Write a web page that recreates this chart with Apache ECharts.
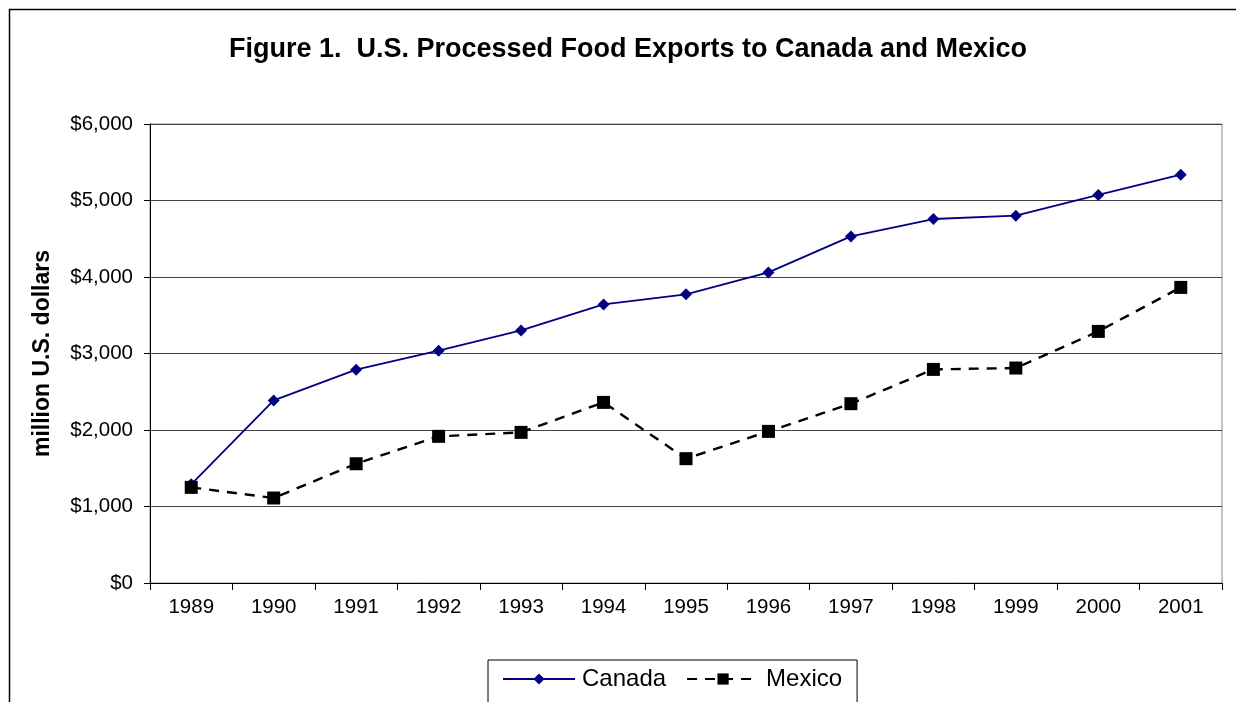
<!DOCTYPE html>
<html>
<head>
<meta charset="utf-8">
<script src="https://cdn.jsdelivr.net/npm/echarts@6/dist/echarts.min.js"></script>
<style>
html,body{margin:0;padding:0;background:#fff;}
#chart{width:1236px;height:702px;}
</style>
</head>
<body>
<div id="chart"></div>
<script>
var years = ['1989','1990','1991','1992','1993','1994','1995','1996','1997','1998','1999','2000','2001'];
var canada = [1290, 2387, 2788, 3037, 3302, 3642, 3773, 4060, 4531, 4758, 4801, 5072, 5337];
var mexico = [1250, 1111, 1559, 1917, 1969, 2361, 1625, 1982, 2344, 2792, 2810, 3289, 3864];
var yTicks = [0, 1000, 2000, 3000, 4000, 5000, 6000];

var chart = echarts.init(document.getElementById('chart'), null, {renderer: 'canvas'});
var font = 'Arial, "Liberation Sans", sans-serif';
chart.setOption({
  animation: false,
  backgroundColor: '#fff',
  textStyle: {fontFamily: font, color: '#000'},
  graphic: [{
    type: 'rect',
    shape: {x: 9.5, y: 9.5, width: 1260, height: 760},
    style: {fill: 'none', stroke: '#000', lineWidth: 1.5},
    silent: true
  }],
  title: {
    text: 'Figure 1.  U.S. Processed Food Exports to Canada and Mexico',
    left: 623, textAlign: 'center', top: 31,
    textStyle: {fontFamily: font, fontSize: 27, fontWeight: 'bold', color: '#000'}
  },
  grid: {left: 150, right: 14, top: 124, bottom: 119, show: true, borderColor: '#888', borderWidth: 1},
  legend: {
    left: 488, top: 660,
    data: ['Canada', 'Mexico'],
    itemWidth: 72, itemHeight: 14, itemGap: 20,
    borderColor: '#000', borderWidth: 1,
    padding: [7, 15, 30, 14],
    textStyle: {fontFamily: font, fontSize: 24, color: '#000', padding: [0, 0, 0, 2]}
  },
  xAxis: {
    type: 'category', data: years, boundaryGap: true,
    axisLine: {lineStyle: {color: '#000', width: 1}},
    axisTick: {show: true, interval: 0, length: 7, lineStyle: {color: '#000'}},
    axisLabel: {fontFamily: font, fontSize: 20.5, color: '#000', margin: 14, interval: 0}
  },
  yAxis: {
    type: 'value', min: 0, max: 6000, interval: 1000,
    name: 'million U.S. dollars', nameLocation: 'middle', nameGap: 96, nameRotate: 90,
    nameTextStyle: {fontFamily: font, fontSize: 23, fontWeight: 'bold', color: '#000'},
    axisLine: {show: true, lineStyle: {color: '#000', width: 1}},
    axisTick: {show: true, length: 6, lineStyle: {color: '#000'}},
    axisLabel: {
      fontFamily: font, fontSize: 20.5, color: '#000', margin: 17,
      formatter: function (v) { return yTicks.indexOf(v) >= 0 ? '$' + v.toLocaleString('en-US') : ''; }
    },
    splitLine: {show: true, lineStyle: {color: '#444', width: 1}}
  },
  series: [
    {
      name: 'Canada', type: 'line', data: canada,
      symbol: 'diamond', symbolSize: 12,
      itemStyle: {color: '#000080'},
      lineStyle: {color: '#000080', width: 1.8}
    },
    {
      name: 'Mexico', type: 'line', data: mexico,
      symbol: 'rect', symbolSize: 13,
      itemStyle: {color: '#000'},
      lineStyle: {color: '#000', width: 2.4, type: [10, 8]}
    }
  ]
});
</script>
</body>
</html>
